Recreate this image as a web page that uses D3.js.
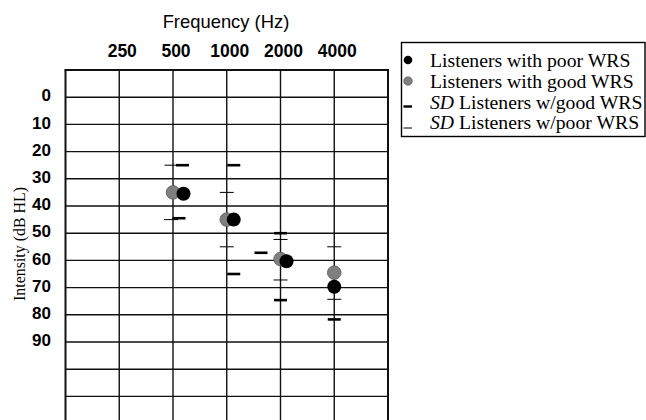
<!DOCTYPE html>
<html><head><meta charset="utf-8">
<script src="https://cdn.jsdelivr.net/npm/d3@7"></script>
<style>body{margin:0;background:#fff;overflow:hidden} svg{display:block}</style>
</head><body>
<script>
// ---- data ----
const freqLabels = ["250", "500", "1000", "2000", "4000"];
const levelTicks = [0, 10, 20, 30, 40, 50, 60, 70, 80, 90];
const gridLevels = [0, 10, 20, 30, 40, 50, 60, 70, 80, 90, 100, 110];
const goodFreq = ["500", "1000", "2000", "4000"];
const goodMean = [35, 45, 59.5, 64.5];
const poorFreq = ["500", "1000", "2000", "4000"];
const poorMean = [35.5, 45, 60.3, 69.7];
const sdGoodFreq = ["500", "500", "1000", "1000", "2000", "2000", "2000", "4000"];
const sdGoodVal = [25, 44.5, 25, 65, 50, 57.2, 74.6, 81.7];
const sdPoorFreq = ["500", "500", "1000", "1000", "2000", "2000", "4000", "4000"];
const sdPoorVal = [25, 45, 35, 55, 52.3, 67.2, 55, 74.3];
const legendLabels = ["Listeners with poor WRS", "Listeners with good WRS", "Listeners w/good WRS", "Listeners w/poor WRS"];

// ---- layout (pixel jitter used in the original to separate overlapping marks) ----
const poorShift = [10.5, 7, 6, 0];
const goodShift = [0, 0, 0, 0];
const sdGoodShift = [9.5, 6, 7, 7, 0, -19.5, 0, 0];
const sdPoorShift = [-1.5, -2, 0, 0, 0, 0, 0, 0];

const W = 646, H = 420;
const svg = d3.select("body").append("svg").attr("width", W).attr("height", H);

const xi = d3.scaleLinear().domain([-1, 5]).range([65.5, 388]);
const x = f => xi(freqLabels.indexOf(f));
const y = d3.scaleLinear().domain([-10, 110]).range([70, 396.4]);
const yBottom = y(125);

// grid
const g = svg.append("g");
g.selectAll("line.h").data(gridLevels).join("line")
  .attr("x1", xi(-1)).attr("x2", xi(5))
  .attr("y1", d => y(d)).attr("y2", d => y(d))
  .attr("stroke", "#111").attr("stroke-width", 1.4);
g.selectAll("line.v").data(d3.range(-1, 6)).join("line")
  .attr("x1", d => xi(d)).attr("x2", d => xi(d))
  .attr("y1", y(-10)).attr("y2", yBottom)
  .attr("stroke", "#111").attr("stroke-width", d => (d === -1 || d === 5) ? 2 : 1.4);
g.append("line").attr("x1", xi(-1) - 1).attr("x2", xi(5) + 1)
  .attr("y1", y(-10)).attr("y2", y(-10)).attr("stroke", "#111").attr("stroke-width", 2.2);

// y axis tick labels
const yAxis = d3.axisLeft(y).tickValues(levelTicks).tickSize(0).tickPadding(0);
const ya = svg.append("g").attr("transform", "translate(51,0)").call(yAxis);
ya.select(".domain").remove();
ya.selectAll("text").attr("font-family", "Liberation Sans, Arial, sans-serif")
  .attr("font-weight", "bold").attr("font-size", 17).attr("fill", "#000").attr("dy", "0.22em");

// x axis (top) labels
const xs = d3.scalePoint().domain(freqLabels).range([xi(0), xi(4)]);
const xAxis = d3.axisTop(xs).tickSize(0).tickPadding(0);
const xa = svg.append("g").attr("transform", "translate(2.5,57)").call(xAxis);
xa.select(".domain").remove();
xa.selectAll("text").attr("font-family", "Liberation Sans, Arial, sans-serif")
  .attr("font-weight", "bold").attr("font-size", 17.5).attr("fill", "#000");

// titles
svg.append("text").attr("x", 226).attr("y", 28).attr("text-anchor", "middle")
  .attr("font-family", "Liberation Sans, Arial, sans-serif").attr("font-size", 18.4)
  .text("Frequency (Hz)");
svg.append("text").attr("transform", "translate(25,244) rotate(-90)").attr("text-anchor", "middle")
  .attr("font-family", "Liberation Serif, Times New Roman, serif").attr("font-size", 16.5)
  .attr("textLength", 114).attr("lengthAdjust", "spacingAndGlyphs")
  .text("Intensity (dB HL)");

// SD marks
const sdPoor = sdPoorFreq.map((f, i) => ({f, v: sdPoorVal[i], s: sdPoorShift[i]}));
const sdGood = sdGoodFreq.map((f, i) => ({f, v: sdGoodVal[i], s: sdGoodShift[i]}));
svg.append("g").selectAll("line").data(sdPoor).join("line")
  .attr("x1", d => x(d.f) + d.s - 7).attr("x2", d => x(d.f) + d.s + 7)
  .attr("y1", d => y(d.v)).attr("y2", d => y(d.v))
  .attr("stroke", "#000").attr("stroke-width", 1);
svg.append("g").selectAll("line").data(sdGood).join("line")
  .attr("x1", d => x(d.f) + d.s - 6.5).attr("x2", d => x(d.f) + d.s + 6.5)
  .attr("y1", d => y(d.v)).attr("y2", d => y(d.v))
  .attr("stroke", "#000").attr("stroke-width", 2.6);

// means
svg.append("g").selectAll("circle").data(goodFreq.map((f, i) => ({f, v: goodMean[i], s: goodShift[i]})))
  .join("circle").attr("cx", d => x(d.f) + d.s).attr("cy", d => y(d.v)).attr("r", 6.8)
  .attr("fill", "#7f7f7f").attr("stroke", "#5a5a5a").attr("stroke-width", 0.8);
svg.append("g").selectAll("circle").data(poorFreq.map((f, i) => ({f, v: poorMean[i], s: poorShift[i]})))
  .join("circle").attr("cx", d => x(d.f) + d.s).attr("cy", d => y(d.v)).attr("r", 7)
  .attr("fill", "#000");

// legend
const lg = svg.append("g");
lg.append("rect").attr("x", 401.5).attr("y", 42.5).attr("width", 243.5).attr("height", 94)
  .attr("fill", "#fff").attr("stroke", "#000").attr("stroke-width", 1.4);
const rowBase = [67, 88, 108.5, 129];
lg.append("circle").attr("cx", 408).attr("cy", rowBase[0] - 7).attr("r", 4.3).attr("fill", "#000");
lg.append("circle").attr("cx", 408).attr("cy", rowBase[1] - 7).attr("r", 4.3)
  .attr("fill", "#7f7f7f").attr("stroke", "#555").attr("stroke-width", 0.6);
lg.append("line").attr("x1", 403.5).attr("x2", 412).attr("y1", rowBase[2] - 2).attr("y2", rowBase[2] - 2)
  .attr("stroke", "#000").attr("stroke-width", 2.4);
lg.append("line").attr("x1", 403.5).attr("x2", 412).attr("y1", rowBase[3] - 1).attr("y2", rowBase[3] - 1)
  .attr("stroke", "#000").attr("stroke-width", 1);
legendLabels.forEach((t, i) => {
  const tx = lg.append("text").attr("x", 430).attr("y", rowBase[i])
    .attr("font-family", "Liberation Serif, Times New Roman, serif").attr("font-size", 19.7).attr("fill", "#000");
  if (i >= 2) {
    tx.append("tspan").attr("font-style", "italic").text("SD");
    tx.append("tspan").text(" " + t);
  } else tx.text(t);
});
</script>
</body></html>
